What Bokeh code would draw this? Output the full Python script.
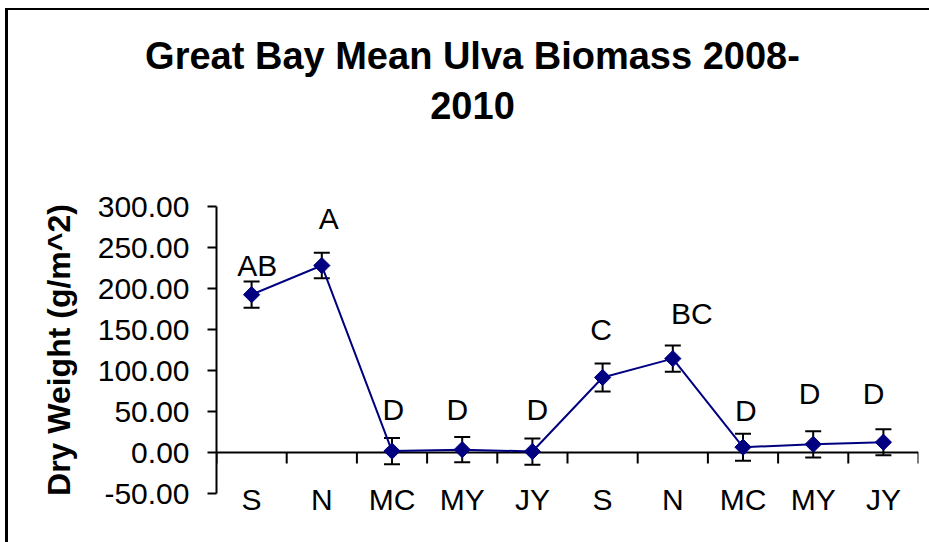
import numpy as np
from bokeh.plotting import figure
from bokeh.layouts import column
from bokeh.models import (ColumnDataSource, Range1d, FixedTicker, Span, Whisker,
                          TeeHead, PrintfTickFormatter)
from bokeh.core.properties import value
from bokeh.embed import file_html
from bokeh.resources import INLINE

# ---------------- data ----------------
categories = ["S", "N", "MC", "MY", "JY", "S", "N", "MC", "MY", "JY"]
means = [192.5, 228.0, 1.8, 3.5, 1.2, 91.5, 114.5, 6.5, 10.0, 12.5]
errors = [16.0, 15.5, 16.0, 15.5, 16.0, 17.0, 16.0, 16.5, 16.0, 16.0]
letters = ["AB", "A", "D", "D", "D", "C", "BC", "D", "D", "D"]
# letter annotation positions (category units / data units)
letter_x = [0.58, 1.60, 2.52, 3.43, 4.57, 5.48, 6.77, 7.54, 8.45, 9.36]
letter_y = [228, 285, 52, 52, 52, 150, 169, 51, 72, 72]
y_ticks = [-50, 0, 50, 100, 150, 200, 250, 300]
title_lines = ["Great Bay Mean Ulva Biomass 2008-", "2010"]
y_label = "Dry Weight (g/m^2)"

FONT = "Liberation Sans"
NAVY = "#000080"

Y_MIN, Y_MAX = -50, 300
W = 921
TITLE_H = 170
H = 362
ML, MR, MT, MB = 208, 11, 26, 49
frame_h = H - MT - MB
px_per_unit = frame_h / (Y_MAX - Y_MIN)
n = len(categories)

# ---------------- title block (pixel space) ----------------
tf = figure(width=W, height=TITLE_H, x_range=Range1d(0, W), y_range=Range1d(TITLE_H, 0),
            output_backend="svg", toolbar_location=None, x_axis_type=None, y_axis_type=None,
            min_border=0)
tf.frame_align = False
tf.grid.visible = False
tf.outline_line_color = None
tf.text(x=[W / 2 + 3.5] * 2, y=[45, 95], text=title_lines, text_font=value(FONT),
        text_font_size="38px", text_font_style="bold", text_align="center",
        text_baseline="middle", text_color="black")

# ---------------- main chart ----------------
xs = [i + 0.5 for i in range(n)]
upper = [m + e for m, e in zip(means, errors)]
lower = [m - e for m, e in zip(means, errors)]
src = ColumnDataSource(dict(x=xs, y=means, upper=upper, lower=lower))

p = figure(width=W, height=H, x_range=Range1d(0, n), y_range=Range1d(Y_MIN, Y_MAX),
           output_backend="svg", toolbar_location=None,
           min_border_left=ML, min_border_right=MR, min_border_top=MT, min_border_bottom=MB)
p.frame_align = False
p.grid.visible = False
p.outline_line_color = None
p.background_fill_color = "white"
p.border_fill_color = "white"

# x axis: category labels only
xa = p.xaxis[0]
xa.ticker = FixedTicker(ticks=xs, minor_ticks=[])
xa.major_label_overrides = {x: c for x, c in zip(xs, categories)}
xa.axis_line_color = None
xa.major_tick_line_color = None
xa.minor_tick_line_color = None
xa.major_tick_out = 0
xa.major_tick_in = 0
xa.major_label_standoff = -11
xa.major_label_text_font = FONT
xa.major_label_text_font_size = "30px"
xa.major_label_text_color = "black"

# y axis
ya = p.yaxis[0]
ya.ticker = FixedTicker(ticks=y_ticks, minor_ticks=[])
ya.formatter = PrintfTickFormatter(format="%.2f")
ya.axis_line_color = "black"
ya.axis_line_width = 2
ya.major_tick_line_color = "black"
ya.major_tick_line_width = 2
ya.major_tick_out = 9
ya.major_tick_in = 0
ya.minor_tick_line_color = None
ya.major_label_standoff = 18
ya.major_label_text_font = FONT
ya.major_label_text_font_size = "30px"
ya.major_label_text_color = "black"
ya.axis_label = y_label
ya.axis_label_text_font = FONT
ya.axis_label_text_font_size = "32px"
ya.axis_label_text_font_style = "bold"
ya.axis_label_text_color = "black"
ya.axis_label_standoff = 18

# horizontal axis line at zero with category boundary ticks
p.add_layout(Span(location=0, dimension="width", line_color="black", line_width=2,
                  level="underlay"))
bounds = list(range(n + 1))
tick_units = 11 / px_per_unit
p.segment(x0=bounds, y0=[0] * len(bounds), x1=bounds, y1=[-tick_units] * len(bounds),
          line_color="black", line_width=2)

# error bars
p.add_layout(Whisker(source=src, base="x", upper="upper", lower="lower",
                     line_color="black", line_width=2,
                     upper_head=TeeHead(size=16, line_color="black", line_width=2),
                     lower_head=TeeHead(size=16, line_color="black", line_width=2)))

# series
p.line("x", "y", source=src, line_color=NAVY, line_width=2)
p.scatter("x", "y", source=src, marker="square", size=11.5, angle=np.pi / 4,
          fill_color=NAVY, line_color=NAVY)

# significance letters
p.text(x=letter_x, y=letter_y, text=letters, text_font=value(FONT),
       text_font_size="30px", text_align="center", text_baseline="middle",
       text_color="black")

layout = column(tf, p, spacing=0)
layout.styles = {"margin-left": "5px", "margin-top": "8px",
                 "border-left": "3px solid black", "border-top": "2px solid black"}

open("out.html", "w").write(file_html(layout, INLINE))
